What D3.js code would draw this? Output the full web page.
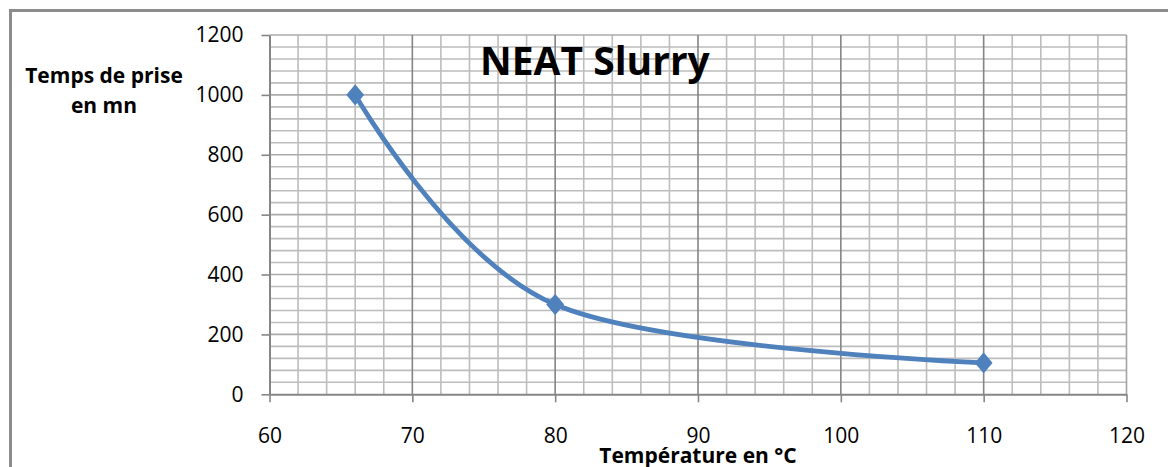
<!DOCTYPE html>
<html>
<head>
<meta charset="utf-8">
<script src="https://cdn.jsdelivr.net/npm/d3@7"></script>
<style>
  html, body { margin: 0; padding: 0; background: #fff; }
  svg { display: block; }
</style>
</head>
<body>
<script>
// Setting time of the neat slurry versus temperature
const temperatures = [66, 80, 110];
const settingTimes = [1000, 300, 105];

const xTicks = [60, 70, 80, 90, 100, 110, 120];
const yTicks = [0, 200, 400, 600, 800, 1000, 1200];
const xMinor = d3.range(62, 120, 2).filter(v => v % 10 !== 0);
const yMinor = d3.range(40, 1200, 40).filter(v => v % 200 !== 0);

const chartTitle = "NEAT Slurry";
const yTitleLines = ["Temps de prise", "en mn"];
const xTitle = "Température en °C";

const W = 1168, H = 467;
const plot = { left: 269.5, right: 1126.5, top: 35, bottom: 394.3 };

const svg = d3.select("body").append("svg")
  .attr("width", W).attr("height", H);

const x = d3.scaleLinear().domain([60, 120]).range([plot.left, plot.right]);
const y = d3.scaleLinear().domain([0, 1200]).range([plot.bottom, plot.top]);

// chart frame (left and top edges)
svg.append("path")
  .attr("d", `M10.5,${H} L10.5,10.5 L${W},10.5`)
  .attr("fill", "none").attr("stroke", "#8c8c8c").attr("stroke-width", 3);

const grid = svg.append("g");

// minor gridlines
grid.selectAll("line.vmin").data(xMinor).join("line")
  .attr("x1", d => x(d)).attr("x2", d => x(d))
  .attr("y1", plot.top).attr("y2", plot.bottom)
  .attr("stroke", "#bdbdbd").attr("stroke-width", 1.6);
grid.selectAll("line.hmin").data(yMinor).join("line")
  .attr("x1", plot.left).attr("x2", plot.right)
  .attr("y1", d => y(d)).attr("y2", d => y(d))
  .attr("stroke", "#bdbdbd").attr("stroke-width", 1.6);

// major gridlines
grid.selectAll("line.hmaj").data(yTicks.slice(1)).join("line")
  .attr("x1", plot.left).attr("x2", plot.right)
  .attr("y1", d => y(d)).attr("y2", d => y(d))
  .attr("stroke", "#ababab").attr("stroke-width", 1.6);
grid.selectAll("line.vmaj").data(xTicks.slice(1)).join("line")
  .attr("x1", d => x(d)).attr("x2", d => x(d))
  .attr("y1", plot.top).attr("y2", plot.bottom)
  .attr("stroke", d => d === 120 ? "#a3a3a3" : "#858585").attr("stroke-width", 1.6);

// axes
const xAxis = d3.axisBottom(x).tickValues(xTicks).tickFormat(d3.format("d"))
  .tickSize(8).tickSizeOuter(0).tickPadding(26);
const yAxis = d3.axisLeft(y).tickValues(yTicks).tickFormat(d3.format("d"))
  .tickSize(8).tickSizeOuter(0).tickPadding(18);

const gx = svg.append("g").attr("transform", `translate(0,${plot.bottom})`).call(xAxis);
const gy = svg.append("g").attr("transform", `translate(${plot.left},0)`).call(yAxis);

[gx, gy].forEach(g => {
  g.select(".domain").attr("stroke", "#868686").attr("stroke-width", 2);
  g.selectAll(".tick line").attr("stroke", "#868686").attr("stroke-width", 1.6);
  g.selectAll(".tick text")
    .attr("fill", "#000")
    .style("font-family", "'Open Sans', 'Liberation Sans', sans-serif")
    .style("font-size", "21px");
});
gx.selectAll(".tick text").attr("dy", "0.68em");

// series line, smoothed
const pts = temperatures.map((t, i) => [t, settingTimes[i]]);
const line = d3.line()
  .x(d => x(d[0])).y(d => y(d[1]))
  .curve(d3.curveCardinal.tension(0));

svg.append("path")
  .datum(pts)
  .attr("d", line)
  .attr("fill", "none")
  .attr("stroke", "#4f81bd")
  .attr("stroke-width", 4.8)
  .attr("stroke-linejoin", "round");

// diamond markers
svg.selectAll("path.marker").data(pts).join("path")
  .attr("class", "marker")
  .attr("transform", d => `translate(${x(d[0])},${y(d[1])})`)
  .attr("d", "M0,-9.5 L8,0 L0,9.5 L-8,0 Z")
  .attr("fill", "#4f81bd")
  .attr("stroke", "#4f81bd")
  .attr("stroke-width", 1.5)
  .attr("stroke-linejoin", "round");

// titles
const boldFont = "'Open Sans', 'Liberation Sans', sans-serif";

svg.append("text")
  .attr("x", 480).attr("y", 75)
  .style("font-family", boldFont)
  .style("font-weight", "bold")
  .style("font-size", "39px")
  .attr("fill", "#000")
  .text(chartTitle);

svg.append("text")
  .attr("x", 104).attr("y", 83)
  .attr("text-anchor", "middle")
  .style("font-family", boldFont)
  .style("font-weight", "bold")
  .style("font-size", "21px")
  .attr("fill", "#000")
  .selectAll("tspan").data(yTitleLines).join("tspan")
  .attr("x", 104)
  .attr("dy", (d, i) => i === 0 ? 0 : 30)
  .text(d => d);

svg.append("text")
  .attr("x", 698).attr("y", 463)
  .attr("text-anchor", "middle")
  .style("font-family", boldFont)
  .style("font-weight", "bold")
  .style("font-size", "21px")
  .attr("fill", "#000")
  .text(xTitle);
</script>
</body>
</html>
